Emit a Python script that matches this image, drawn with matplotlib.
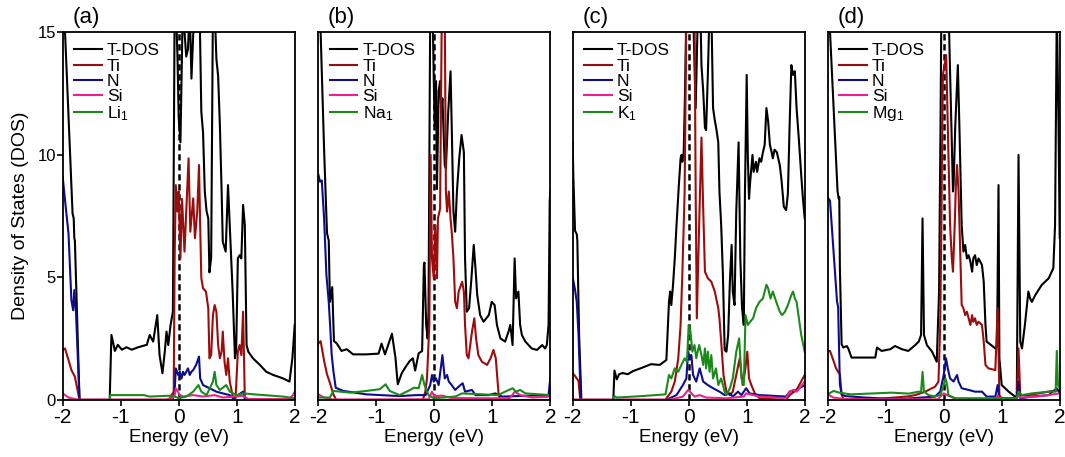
import matplotlib
matplotlib.use("Agg")
import matplotlib.pyplot as plt
from matplotlib import font_manager as fm

# ---------------- data (energy eV, DOS) ----------------
ENERGY_TICKS = [-2, -1, 0, 1, 2]
DOS_TICKS = [0, 5, 10, 15]
PANEL_TAGS = ["(a)", "(b)", "(c)", "(d)"]
DOPANT_LABELS = ["Li$_1$", "Na$_1$", "K$_1$", "Mg$_1$"]
SERIES_NAMES = ["T-DOS", "Ti", "N", "Si"]

# ---- panel (a) ----
A_TDOS = [(-2.0, 20), (-1.96, 15), (-1.83, 7.6), (-1.81, 7.4), (-1.80, 6.6), (-1.79, 6.5), (-1.71, 0),
          (-1.19, 0), (-1.16, 2.65), (-1.10, 2.0), (-1.05, 2.25), (-0.98, 2.05), (-0.90, 2.15), (-0.81, 2.05),
          (-0.70, 2.15), (-0.55, 2.25), (-0.50, 2.65), (-0.44, 2.38), (-0.37, 3.46), (-0.33, 1.83),
          (-0.28, 1.09), (-0.24, 1.97), (-0.21, 2.79), (-0.18, 2.24), (-0.14, 3.06), (-0.10, 3.6),
          (-0.07, 16), (-0.04, 15.5), (-0.02, 13.9), (0.0, 11.5), (0.03, 10.5), (0.07, 16), (0.13, 14.0),
          (0.16, 14.3), (0.19, 16), (0.22, 13.1), (0.25, 14.9), (0.30, 16), (0.36, 16), (0.39, 11.75),
          (0.42, 10.9), (0.45, 8.5), (0.48, 7.7), (0.51, 7.4), (0.53, 5.2), (0.56, 5.8), (0.59, 16),
          (0.62, 16), (0.65, 13.9), (0.68, 13.2), (0.71, 11.2), (0.74, 8.5), (0.76, 6.45), (0.81, 6.05),
          (0.85, 8.76), (0.88, 7.13), (0.93, 4.42), (0.97, 1.7), (0.99, 1.97), (1.02, 5.77), (1.05, 5.9),
          (1.08, 5.77), (1.11, 7.95), (1.14, 7.13), (1.17, 2.24), (1.20, 1.97), (1.28, 1.7), (1.40, 1.43),
          (1.51, 1.15), (1.63, 1.02), (1.80, 0.88), (1.91, 0.75), (1.96, 1.7), (2.0, 3.06)]
A_TI = [(-2.0, 2.04), (-1.96, 2.1), (-1.90, 1.63), (-1.85, 1.22), (-1.79, 0.95), (-1.71, 0), (-0.2, 0),
        (-0.155, 0.07), (-0.086, 0.34), (-0.07, 5.77), (-0.05, 8.76), (-0.02, 7.68), (0.0, 8.5),
        (0.03, 5.77), (0.057, 8.2), (0.10, 6.05), (0.13, 7.68), (0.17, 9.85), (0.20, 6.86), (0.25, 8.22),
        (0.28, 6.6), (0.32, 7.68), (0.35, 9.58), (0.37, 7.13), (0.39, 4.96), (0.42, 4.55), (0.47, 4.42),
        (0.51, 3.74), (0.53, 1.7), (0.56, 1.83), (0.59, 3.46), (0.62, 3.87), (0.65, 3.6), (0.68, 2.24),
        (0.71, 1.7), (0.74, 1.97), (0.76, 2.79), (0.79, 1.56), (0.82, 1.02), (0.85, 1.7), (0.88, 0.75),
        (0.94, 0.07), (0.98, 0.07), (1.02, 1.97), (1.05, 2.24), (1.08, 1.83), (1.11, 3.6), (1.14, 0.07),
        (1.15, 0), (2.0, 0)]
A_N = [(-2.0, 9.1), (-1.96, 8.14), (-1.90, 6.79), (-1.85, 4.07), (-1.82, 3.66), (-1.80, 4.48),
       (-1.77, 3.53), (-1.71, 0), (-0.12, 0), (-0.10, 0.07), (-0.07, 0.34), (-0.05, 1.29), (-0.01, 1.02),
       (0.02, 1.15), (0.05, 0.88), (0.075, 1.15), (0.10, 1.02), (0.13, 1.15), (0.16, 1.29), (0.19, 1.02),
       (0.22, 1.15), (0.25, 1.22), (0.30, 1.43), (0.35, 1.77), (0.37, 0.88), (0.42, 0.61), (0.53, 0.48),
       (0.65, 0.34), (0.76, 0.27), (0.88, 0.2), (0.94, 0.07), (1.02, 0.2), (1.11, 0.34), (1.14, 0.07),
       (1.2, 0.02), (2.0, 0.02)]
A_SI = [(-2.0, 0.27), (-1.9, 0.1), (-1.75, 0.02), (-0.2, 0.02), (-0.1, 0.1), (-0.07, 0.2), (-0.05, 0.48),
        (0.02, 0.2), (0.08, 0.14), (0.25, 0.2), (0.42, 0.14), (0.62, 0.2), (0.76, 0.1), (1.11, 0.17),
        (1.2, 0.04), (1.91, 0.04), (1.97, 0.2), (2.0, 0.34)]
A_DOP = [(-2.0, 0), (-1.19, 0), (-1.18, 0.2), (-0.6, 0.2), (-0.5, 0.14), (-0.1, 0.18), (0.0, 0.07),
         (0.13, 0.14), (0.25, 0.34), (0.34, 0.61), (0.39, 0.34), (0.48, 0.2), (0.59, 0.75), (0.62, 1.15),
         (0.65, 0.61), (0.71, 0.41), (0.82, 0.61), (0.88, 0.34), (1.0, 0.2), (1.11, 0.27), (1.3, 0.23),
         (1.8, 0.14), (2.0, 0.07)]

# ---- panel (b) ----
B_TDOS = [(-2.0, 18), (-1.96, 15), (-1.90, 10.2), (-1.85, 6.8), (-1.82, 6.5), (-1.80, 4.0), (-1.76, 4.6),
          (-1.73, 2.4), (-1.68, 2.3), (-1.60, 2.0), (-1.51, 2.07), (-1.40, 1.86), (-1.17, 1.86),
          (-0.96, 1.89), (-0.91, 2.3), (-0.85, 1.86), (-0.73, 2.7), (-0.67, 1.73), (-0.63, 0.64),
          (-0.56, 1.1), (-0.48, 1.4), (-0.42, 1.6), (-0.37, 1.7), (-0.33, 1.2), (-0.27, 1.9), (-0.21, 2.0),
          (-0.18, 5.5), (-0.17, 5.6), (-0.14, 3.06), (-0.115, 2.5), (-0.10, 3.6), (-0.07, 16), (-0.03, 16),
          (-0.01, 13.2), (0.006, 11.2), (0.03, 13.0), (0.046, 8.6), (0.075, 12.6), (0.10, 13.0),
          (0.12, 11.75), (0.14, 12.3), (0.18, 9.58), (0.20, 9.44), (0.24, 11.75), (0.28, 13.4),
          (0.30, 11.2), (0.33, 7.68), (0.36, 6.86), (0.39, 8.5), (0.43, 9.85), (0.47, 10.8), (0.51, 10.1),
          (0.53, 5.77), (0.56, 3.6), (0.60, 3.74), (0.64, 4.96), (0.68, 6.32), (0.71, 5.37), (0.74, 4.28),
          (0.79, 3.46), (0.85, 3.19), (0.94, 3.46), (0.99, 4.0), (1.04, 3.87), (1.08, 3.06), (1.14, 2.51),
          (1.22, 2.38), (1.28, 2.79), (1.31, 3.06), (1.35, 2.24), (1.385, 5.77), (1.41, 4.14),
          (1.45, 4.42), (1.48, 3.06), (1.51, 2.65), (1.57, 2.38), (1.68, 2.1), (1.77, 2.04), (1.86, 2.24),
          (1.91, 2.1), (1.94, 2.24), (1.97, 3.06), (1.99, 8.1), (2.0, 8.5)]
B_TI = [(-2.0, 2.3), (-1.96, 2.4), (-1.90, 1.6), (-1.85, 1.05), (-1.80, 0.7), (-1.74, 0.23), (-1.69, 0),
        (-0.2, 0), (-0.155, 0.34), (-0.126, 0.88), (-0.086, 3.06), (-0.063, 9.99), (-0.04, 5.77),
        (-0.01, 4.96), (0.017, 7.13), (0.046, 4.96), (0.063, 7.4), (0.10, 7.8), (0.13, 16), (0.18, 16),
        (0.20, 8.5), (0.22, 7.68), (0.25, 8.5), (0.28, 7.4), (0.30, 6.86), (0.33, 5.77), (0.36, 4.0),
        (0.39, 3.74), (0.42, 4.42), (0.48, 4.82), (0.51, 4.42), (0.53, 3.06), (0.56, 1.83), (0.59, 1.7),
        (0.65, 2.79), (0.69, 3.33), (0.72, 2.51), (0.76, 1.83), (0.82, 1.56), (0.91, 1.43), (0.97, 1.7),
        (1.02, 2.04), (1.06, 1.7), (1.11, 0.2), (1.14, 0), (2.0, 0)]
B_N = [(-2.0, 9.2), (-1.97, 8.9), (-1.94, 8.95), (-1.90, 7.4), (-1.86, 5.1), (-1.82, 4.0), (-1.80, 3.2),
       (-1.77, 1.86), (-1.74, 1.19), (-1.70, 0.5), (-1.57, 0.37), (-1.17, 0.23), (-0.6, 0.16),
       (-0.3, 0.2), (-0.15, 0.2), (-0.07, 0.61), (-0.04, 1.02), (-0.01, 0.75), (0.03, 0.88),
       (0.075, 0.61), (0.14, 1.83), (0.18, 0.88), (0.22, 1.02), (0.25, 0.75), (0.30, 0.61), (0.36, 0.41),
       (0.45, 0.61), (0.49, 0.68), (0.53, 0.34), (0.65, 0.41), (0.71, 0.2), (0.94, 0.2), (1.05, 0.27),
       (1.17, 0.14), (1.97, 0.2), (2.0, 0.9)]
B_SI = [(-2.0, 0.23), (-1.9, 0.1), (-1.75, 0.02), (-0.1, 0.03), (-0.04, 0.34), (0.0, 0.15), (0.13, 0.18),
        (0.3, 0.08), (1.0, 0.07), (1.3, 0.08), (1.39, 0.34), (1.48, 0.2), (1.7, 0.1), (2.0, 0.14)]
B_DOP = [(-2.0, 0.1), (-1.8, 0.1), (-1.74, 0.37), (-1.45, 0.3), (-1.17, 0.37), (-0.94, 0.44),
         (-0.84, 0.64), (-0.77, 0.37), (-0.6, 0.2), (-0.45, 0.37), (-0.35, 0.5), (-0.27, 0.48),
         (-0.21, 1.02), (-0.17, 0.61), (-0.10, 0.2), (-0.01, 0.07), (0.36, 0.14), (0.48, 0.27),
         (1.1, 0.2), (1.22, 0.34), (1.35, 0.48), (1.41, 0.34), (1.48, 0.41), (1.57, 0.27), (2.0, 0.2)]

# ---- panel (c) ----
C_TDOS = [(-2.0, 10.5), (-1.99, 9.2), (-1.96, 6.9), (-1.93, 6.76), (-1.92, 6.5), (-1.89, 2.68),
          (-1.85, 0), (-1.30, 0), (-1.28, 1.2), (-1.24, 0.84), (-1.20, 1.05), (-1.14, 1.1), (-1.05, 1.05),
          (-0.96, 1.18), (-0.82, 1.3), (-0.65, 1.46), (-0.5, 1.43), (-0.385, 1.63), (-0.34, 4.0),
          (-0.32, 4.42), (-0.30, 3.87), (-0.27, 4.7), (-0.24, 5.77), (-0.21, 7.13), (-0.17, 8.76),
          (-0.14, 9.85), (-0.125, 9.99), (-0.11, 9.71), (-0.086, 10.1), (-0.063, 12.6), (-0.04, 16),
          (0.0, 16), (0.075, 16), (0.12, 11.9), (0.16, 16), (0.20, 16), (0.22, 13.65), (0.25, 12.6),
          (0.28, 11.1), (0.30, 11.0), (0.33, 13.25), (0.36, 16), (0.39, 16), (0.42, 11.9), (0.45, 11.4),
          (0.48, 11.0), (0.51, 10.5), (0.53, 8.5), (0.56, 7.13), (0.59, 5.1), (0.62, 2.04), (0.65, 1.97),
          (0.68, 2.65), (0.71, 4.82), (0.74, 6.32), (0.76, 4.42), (0.79, 3.87), (0.82, 7.68),
          (0.86, 10.5), (0.89, 5.77), (0.92, 3.74), (0.95, 3.06), (0.97, 8.5), (1.0, 13.25),
          (1.02, 9.85), (1.04, 8.2), (1.06, 8.9), (1.10, 9.99), (1.12, 9.3), (1.16, 9.71), (1.18, 9.3),
          (1.22, 9.85), (1.25, 9.71), (1.28, 10.1), (1.31, 10.4), (1.34, 11.9), (1.37, 11.35),
          (1.40, 10.4), (1.43, 10.1), (1.45, 9.85), (1.48, 10.2), (1.52, 10.1), (1.57, 9.58),
          (1.60, 8.97), (1.64, 7.88), (1.68, 7.74), (1.71, 8.4), (1.74, 11.2), (1.77, 13.65),
          (1.80, 13.25), (1.83, 13.4), (1.86, 11.9), (1.90, 10.6), (1.94, 9.17), (1.97, 8.2), (2.0, 7.4)]
C_TI = [(-2.0, 1.1), (-1.96, 0.98), (-1.90, 0.78), (-1.87, 0), (-0.4, 0), (-0.385, 0.07), (-0.30, 0.34),
        (-0.24, 0.75), (-0.18, 1.7), (-0.14, 3.06), (-0.11, 5.1), (-0.07, 8.5), (-0.04, 16), (0.10, 16),
        (0.12, 8.5), (0.14, 3.33), (0.18, 7.13), (0.22, 10.7), (0.25, 7.8), (0.28, 5.23), (0.33, 4.96),
        (0.39, 4.82), (0.45, 4.42), (0.51, 3.74), (0.53, 3.33), (0.56, 2.38), (0.60, 1.02), (0.65, 0.34),
        (0.71, 0.2), (0.76, 0.34), (0.82, 1.02), (0.88, 1.7), (0.93, 0.61), (0.97, 1.15), (1.01, 1.97),
        (1.04, 0.88), (1.08, 0.61), (1.14, 0.27), (1.22, 0.07), (1.68, 0.0), (1.74, 0.2), (1.86, 0.41),
        (2.0, 1.02)]
C_N = [(-2.0, 5.0), (-1.96, 4.5), (-1.93, 4.0), (-1.90, 2.68), (-1.86, 0), (-0.4, 0), (-0.33, 0.07),
       (-0.21, 0.2), (-0.10, 0.61), (-0.04, 0.88), (-0.01, 1.97), (0.017, 1.7), (0.046, 1.83),
       (0.075, 1.02), (0.13, 0.75), (0.19, 1.29), (0.25, 0.75), (0.33, 0.61), (0.42, 0.48), (0.53, 0.34),
       (0.62, 0.2), (0.71, 0.27), (0.76, 0.14), (0.85, 0.34), (0.91, 0.2), (0.99, 0.48), (1.05, 0.27),
       (1.22, 0.2), (1.68, 0.14), (1.74, 0.34), (1.86, 0.41), (2.0, 0.61)]
C_SI = [(-2.0, 0.02), (-0.3, 0.02), (-0.1, 0.14), (-0.01, 0.41), (0.05, 0.27), (0.1, 0.14), (0.19, 0.2),
        (0.30, 0.1), (0.65, 0.07), (0.95, 0.14), (0.99, 0.27), (1.22, 0.14), (1.68, 0.07), (1.74, 0.34),
        (1.8, 0.41), (1.86, 0.34), (1.91, 0.48), (2.0, 0.75)]
C_DOP = [(-2.0, 0), (-1.30, 0), (-1.28, 0.16), (-1.24, 0.1), (-0.8, 0.16), (-0.4, 0.23), (-0.34, 1.02),
         (-0.30, 0.88), (-0.24, 1.29), (-0.18, 1.15), (-0.126, 1.43), (-0.07, 1.7), (-0.03, 1.56),
         (0.0, 3.06), (0.03, 2.79), (0.063, 1.97), (0.10, 2.24), (0.13, 1.7), (0.18, 2.24), (0.22, 1.83),
         (0.25, 1.43), (0.28, 2.1), (0.30, 1.29), (0.33, 1.97), (0.36, 1.15), (0.39, 1.83), (0.42, 0.88),
         (0.47, 1.29), (0.51, 0.61), (0.56, 0.88), (0.62, 0.34), (0.65, 0.2), (0.71, 0.48), (0.76, 0.88),
         (0.82, 1.97), (0.87, 2.51), (0.91, 0.88), (0.95, 0.61), (0.98, 3.46), (1.02, 3.06), (1.06, 3.19),
         (1.11, 3.33), (1.16, 3.74), (1.22, 4.0), (1.28, 4.14), (1.34, 4.7), (1.37, 4.55), (1.41, 4.14),
         (1.45, 4.42), (1.51, 4.0), (1.57, 3.6), (1.61, 3.46), (1.66, 3.6), (1.71, 3.87), (1.77, 4.28),
         (1.80, 4.42), (1.83, 4.14), (1.86, 4.0), (1.90, 3.33), (1.94, 2.65), (2.0, 1.97)]

# ---- panel (d) ----
D_TDOS = [(-2.0, 18), (-1.96, 15), (-1.83, 8.5), (-1.81, 8.2), (-1.80, 8.26), (-1.79, 5.4), (-1.76, 2.27),
          (-1.73, 2.14), (-1.67, 2.2), (-1.64, 2.07), (-1.59, 1.73), (-1.18, 1.73), (-1.15, 2.14),
          (-1.07, 2.0), (-0.92, 2.07), (-0.84, 2.2), (-0.72, 2.07), (-0.61, 2.0), (-0.49, 2.24),
          (-0.43, 2.38), (-0.39, 2.65), (-0.365, 7.4), (-0.34, 2.65), (-0.29, 2.24), (-0.20, 1.97),
          (-0.12, 1.56), (-0.08, 4.42), (-0.055, 11.2), (-0.04, 16), (0.083, 16), (0.16, 8.5),
          (0.17, 8.76), (0.20, 11.2), (0.244, 13.65), (0.27, 11.2), (0.31, 7.13), (0.34, 6.05),
          (0.37, 6.32), (0.40, 5.77), (0.43, 5.9), (0.46, 5.64), (0.49, 5.23), (0.51, 5.77), (0.54, 5.9),
          (0.57, 5.5), (0.60, 5.77), (0.63, 5.64), (0.66, 5.5), (0.69, 4.82), (0.72, 3.06), (0.74, 2.38),
          (0.78, 2.31), (0.89, 2.1), (0.92, 2.24), (0.945, 8.76), (0.96, 1.7), (1.0, 0.61), (1.12, 0.34),
          (1.23, 0.14), (1.26, 0.07), (1.29, 9.99), (1.32, 2.38), (1.35, 2.1), (1.40, 3.06), (1.46, 4.42),
          (1.49, 4.14), (1.52, 4.0), (1.58, 4.28), (1.69, 4.69), (1.81, 4.96), (1.89, 5.37), (1.92, 7.13),
          (1.95, 16), (1.98, 11.2), (2.0, 6.6)]
D_TI = [(-2.0, 2.0), (-1.96, 2.0), (-1.90, 1.6), (-1.86, 1.32), (-1.83, 1.18), (-1.79, 1.05),
        (-1.76, 0.23), (-1.73, 0.03), (-1.2, 0.03), (-0.6, 0.15), (-0.49, 0.2), (-0.32, 0.34),
        (-0.15, 0.54), (-0.09, 0.75), (-0.06, 3.06), (-0.04, 7.13), (-0.03, 9.85), (-0.014, 13.25),
        (0.043, 14.06), (0.083, 9.85), (0.11, 7.13), (0.14, 5.77), (0.16, 5.23), (0.19, 7.13),
        (0.21, 8.76), (0.23, 9.58), (0.256, 8.5), (0.28, 6.45), (0.31, 3.87), (0.34, 3.74), (0.37, 3.46),
        (0.40, 3.6), (0.43, 3.33), (0.46, 3.06), (0.49, 3.46), (0.51, 3.19), (0.54, 3.33), (0.57, 3.06),
        (0.60, 3.19), (0.66, 3.06), (0.69, 2.38), (0.72, 1.43), (0.77, 1.29), (0.89, 1.22), (0.93, 3.74),
        (0.96, 0.2), (1.0, 0.07), (1.26, 0.07), (1.29, 2.1), (1.32, 0.2), (1.46, 0.2), (1.81, 0.34),
        (2.0, 0.41)]
D_N = [(-2.0, 8.26), (-1.96, 8.12), (-1.90, 6.08), (-1.84, 4.04), (-1.82, 3.77), (-1.79, 0.64),
       (-1.76, 0.23), (-1.70, 0.16), (-1.36, 0.1), (-0.78, 0.03), (-0.15, 0.14), (-0.06, 0.34),
       (0.0, 1.02), (0.04, 1.7), (0.07, 1.29), (0.11, 0.88), (0.17, 0.75), (0.23, 1.02), (0.256, 0.75),
       (0.31, 0.48), (0.43, 0.41), (0.54, 0.34), (0.66, 0.34), (0.74, 0.14), (0.89, 0.14), (0.93, 0.61),
       (0.96, 0.07), (1.26, 0.07), (1.29, 0.75), (1.32, 0.07), (1.52, 0.14), (1.81, 0.2), (1.95, 0.48),
       (2.0, 0.27)]
D_SI = [(-2.0, 0.23), (-1.9, 0.1), (-1.7, 0.03), (-0.1, 0.03), (0.0, 0.27), (0.06, 0.2), (0.2, 0.05),
        (0.9, 0.05), (0.93, 0.2), (0.96, 0.05), (1.26, 0.05), (1.29, 0.2), (1.32, 0.1), (1.6, 0.14),
        (1.81, 0.2), (2.0, 0.27)]
D_DOP = [(-2.0, 0.23), (-1.9, 0.37), (-1.8, 0.3), (-1.6, 0.23), (-1.3, 0.26), (-0.9, 0.3), (-0.6, 0.26),
         (-0.43, 0.34), (-0.39, 0.34), (-0.365, 1.15), (-0.34, 0.34), (-0.26, 0.2), (-0.15, 0.14),
         (-0.06, 0.2), (0.0, 0.61), (0.03, 0.88), (0.06, 0.61), (0.08, 0.2), (0.2, 0.07), (0.96, 0.07),
         (1.26, 0.07), (1.29, 0.34), (1.35, 0.2), (1.52, 0.27), (1.81, 0.34), (1.93, 0.34), (1.95, 2.0),
         (1.97, 0.61), (2.0, 0.48)]

PANELS = [
    [A_TDOS, A_TI, A_N, A_SI, A_DOP],
    [B_TDOS, B_TI, B_N, B_SI, B_DOP],
    [C_TDOS, C_TI, C_N, C_SI, C_DOP],
    [D_TDOS, D_TI, D_N, D_SI, D_DOP],
]

# ---------------- style ----------------
COLORS = ["#000000", "#9b0d0d", "#0c0c8c", "#f0208a", "#1a8a1a"]


def pick(*names):
    avail = {f.name for f in fm.fontManager.ttflist}
    out = [n for n in names if n in avail]
    return out + ["DejaVu Sans"]


REG = pick("Liberation Sans", "Arial")

plt.rcParams["font.family"] = REG
plt.rcParams["mathtext.default"] = "regular"

fig = plt.figure(figsize=(10.65, 4.57), dpi=100)
W, H = 1065.0, 457.0
lefts = [62.7, 318.3, 572.7, 827.7]
width = 232.0
top, bottom = 32.0, 400.0

for i, curves in enumerate(PANELS):
    ax = fig.add_axes([lefts[i] / W, (H - bottom) / H, width / W, (bottom - top) / H])
    labels = SERIES_NAMES + [DOPANT_LABELS[i]]
    for curve, color, lab in zip(curves, COLORS, labels):
        xs = [p[0] for p in curve]
        ys = [p[1] for p in curve]
        ax.plot(xs, ys, color=color, lw=1.5, label=lab, solid_joinstyle="round")
    ax.axvline(0, color="black", lw=1.8, ls=(0, (2.5, 1.5)), zorder=1)
    ax.set_xlim(-2, 2)
    ax.set_ylim(0, 15)
    ax.set_xticks(ENERGY_TICKS)
    ax.set_xticklabels([str(t) for t in ENERGY_TICKS], fontsize=15)
    ax.tick_params(axis="x", direction="out", length=4, width=1.2, pad=2)
    if i == 0:
        ax.set_yticks(DOS_TICKS)
        ax.set_yticklabels([str(t) for t in DOS_TICKS], fontsize=12)
        ax.tick_params(axis="y", direction="out", length=4, width=1.2, pad=1)
        ax.set_ylabel("Density of States (DOS)", fontsize=14, labelpad=6)
    else:
        ax.set_yticks([])
    for s in ax.spines.values():
        s.set_linewidth(1.3)
    ax.set_xlabel("Energy (eV)", fontsize=13.5, labelpad=1)
    ax.text(0.042, 1.012, PANEL_TAGS[i], transform=ax.transAxes, fontsize=16,
            ha="left", va="bottom")
    leg = ax.legend(loc="upper left", frameon=False, fontsize=12.5, handlelength=1.6,
                    handletextpad=0.3, labelspacing=0.0, borderaxespad=0.35,
                    borderpad=0.3)
    for line in leg.get_lines():
        line.set_linewidth(1.5)

fig.savefig("out.png", dpi=100)
